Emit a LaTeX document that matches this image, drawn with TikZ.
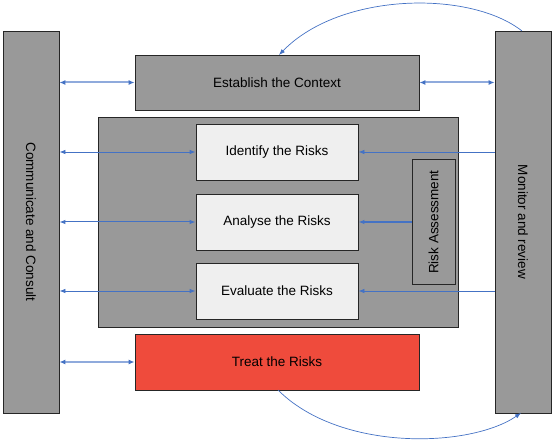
\documentclass[tikz,border=0pt]{standalone}
\usepackage{fontspec}
\setmainfont{Liberation Sans}
\usetikzlibrary{arrows.meta}
\definecolor{boxgrey}{HTML}{999999}
\definecolor{boxlight}{HTML}{EFEFEF}
\definecolor{boxred}{HTML}{EF4B3C}
\definecolor{arrblue}{HTML}{4472C4}
\definecolor{arrlight}{HTML}{8FAADC}
\tikzset{
  txt/.style={font=\fontsize{13.5}{16}\selectfont, text=black},
  base/.style={draw=black!85, line width=0.8pt, inner sep=0pt, txt},
  greybox/.style={base, fill=boxgrey},
  lightbox/.style={base, fill=boxlight},
  redbox/.style={base, fill=boxred},
  thinarr/.style={draw=arrblue, line width=0.8pt, -{Latex[length=6pt,width=4.5pt]}},
  dblarr/.style={draw=arrblue, line width=0.8pt, {Latex[length=6pt,width=4.5pt]}-{Latex[length=6pt,width=4.5pt]}},
  thickdbl/.style={draw=arrlight, line width=2pt, {Latex[length=6pt,width=5pt,color=arrblue]}-{Latex[length=6pt,width=5pt,color=arrblue]}},
  curvearr/.style={draw=arrblue, line width=0.7pt, -{Latex[length=6pt,width=4.5pt]}}
}
\begin{document}
\begin{tikzpicture}[x=1pt,y=-1pt]
\useasboundingbox (0,0) rectangle (556,446);
% outer bars
\node[greybox, minimum width=56pt, minimum height=382pt] (cc) at (31,222) {};
\node[rotate=-90, txt] (cct) at (cc.center) {Communicate and Consult};
\node[greybox, minimum width=56pt, minimum height=382pt] (mr) at (523,222) {};
\node[rotate=-90, txt] (mrt) at (mr.center) {Monitor and review};
% establish
\node[greybox, minimum width=284pt, minimum height=55pt] (est) at (277,82.5) {Establish the Context};
% big box
\node[greybox, minimum width=360pt, minimum height=210pt] (big) at (278,222) {};
\node[lightbox, minimum width=162pt, minimum height=56pt] (ident) at (277,152) {Identify the Risks};
\node[lightbox, minimum width=162pt, minimum height=56pt] (anal) at (277,222) {Analyse the Risks};
\node[lightbox, minimum width=162pt, minimum height=56pt] (eval) at (277,291) {Evaluate the Risks};
\node[greybox, minimum width=43pt, minimum height=125pt] (ra) at (433.5,222) {};
\node[rotate=90, txt] (rat) at (ra.center) {Risk Assessment};
% treat
\node[redbox, minimum width=284pt, minimum height=56pt] (treat) at (277,362) {Treat the Risks};
% arrows
\draw[thickdbl] (cc.east |- est.west) -- (est.west);
\draw[thickdbl] (est.east) -- (mr.west |- est.east);
\draw[thickdbl] (cc.east |- treat.west) -- (treat.west);
\draw[dblarr] (cc.east |- ident.west) -- (ident.west);
\draw[dblarr, line width=1pt] (cc.east |- anal.west) -- (anal.west);
\draw[dblarr] (cc.east |- eval.west) -- (eval.west);
\draw[thinarr] (mr.west |- ident.east) -- (ident.east);
\draw[thinarr, line width=1.4pt] (ra.west |- anal.east) -- (anal.east);
\draw[thinarr] (mr.west |- eval.east) -- (eval.east);
% curves
\coordinate (mrtop) at (522,31);
\coordinate (esttop) at (279,55);
\coordinate (treatbot) at (278,390);
\coordinate (mrbot) at (521,413);
\draw[curvearr] (mrtop) .. controls (470,-10) and (340,-8) .. (esttop);
\draw[curvearr] (treatbot) .. controls (340,452) and (470,448) .. (mrbot);
\end{tikzpicture}
\end{document}
